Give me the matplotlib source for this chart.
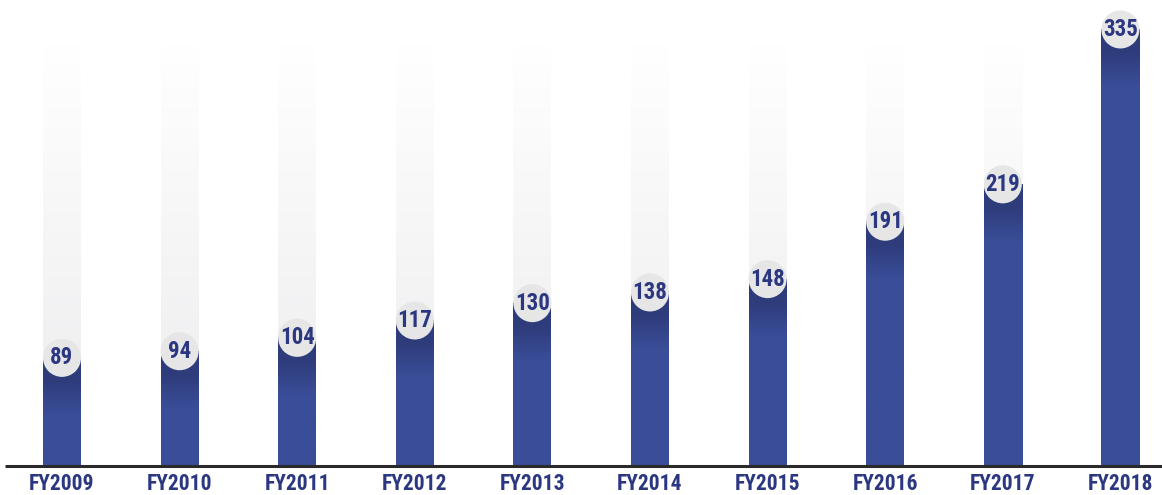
import numpy as np
import matplotlib
matplotlib.use("Agg")
import matplotlib.pyplot as plt
from matplotlib.colors import to_rgb

categories = ["FY2009", "FY2010", "FY2011", "FY2012", "FY2013",
              "FY2014", "FY2015", "FY2016", "FY2017", "FY2018"]
values = [89, 94, 104, 117, 130, 138, 148, 191, 219, 335]

FONT = ["Liberation Sans Narrow", "Roboto Condensed", "Liberation Sans", "DejaVu Sans"]
NAVY = "#2b3781"
BAR_LIGHT = np.array(to_rgb("#3a4d98"))
BAR_DARK = np.array(to_rgb("#2e3c7b"))
BG_GRAY = np.array(to_rgb("#ebebed"))

W, H = 1162, 495
fig = plt.figure(figsize=(W / 100, H / 100), dpi=100)
base_px = 466
ax = fig.add_axes([0, (H - base_px) / H, 1, base_px / H])

v0 = 8.0
k = 1.335  # pixels per unit
ymax = v0 + base_px / k
spacing = 117.6
x0 = -62 / spacing
x1 = (W - 62) / spacing
ax.set_xlim(x0, x1)
ax.set_ylim(v0, ymax)
ax.axis("off")

bw = 38 / spacing
bg_top = v0 + (base_px - 45) / k

for i, v in enumerate(values):
    # background fading bar
    n = 200
    t = np.linspace(0, 1, n)[:, None]  # 0 top -> 1 bottom
    col = (1 - t) * np.ones(3) + t * BG_GRAY
    ax.imshow(col[:, None, :], extent=[i - bw / 2, i + bw / 2, v0, bg_top],
              aspect="auto", interpolation="bilinear", zorder=1)
    # main bar with darker top gradient
    npx = int(round((v - v0) * k))
    d = np.arange(npx)[:, None]
    f = np.clip((d - 22) / 35.0, 0, 1)
    col = (1 - f) * BAR_DARK + f * BAR_LIGHT
    ax.imshow(col[:, None, :], extent=[i - bw / 2, i + bw / 2, v0, v],
              aspect="auto", interpolation="bilinear", zorder=2)
    # circle label
    ax.scatter([i], [v], s=27.4 ** 2, color="#e6e6e6", edgecolors="none", zorder=3)
    ax.text(i, v, str(v), ha="center", va="center", fontsize=16.5, fontweight="bold",
            color=NAVY, family=FONT, zorder=4)
    # x label
    fig.text((62 + spacing * i) / W, (H - 484) / H, categories[i], ha="center", va="center",
             fontsize=15.5, fontweight="bold", color=NAVY, family=FONT)

ax.plot([x0 + 5 / spacing, x1], [v0, v0], color="#2a2a2a", lw=2.2, zorder=5,
        solid_capstyle="butt", clip_on=False)

fig.savefig("out.png", dpi=100, facecolor="white")
